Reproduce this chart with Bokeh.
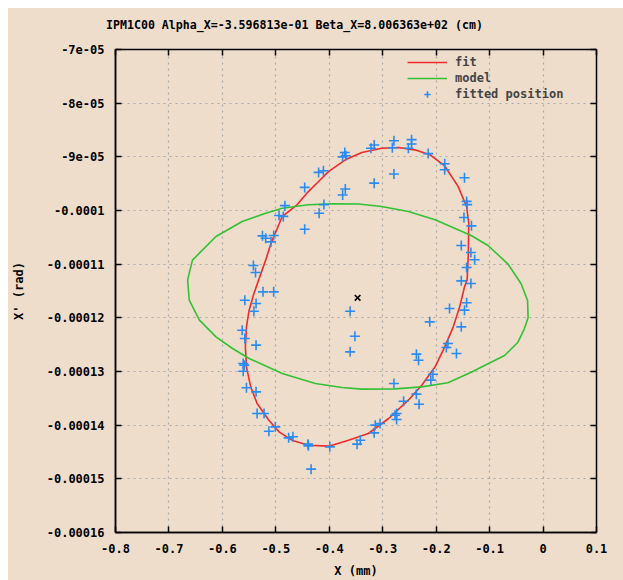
from bokeh.plotting import figure
from bokeh.models import (Range1d, FixedTicker, CustomJSTickFormatter, LinearAxis,
                          Legend, LegendItem, Spacer, Div)
from bokeh.layouts import column, row
from bokeh.embed import file_html
from bokeh.resources import INLINE

title_text = "IPM1C00 Alpha_X=-3.596813e-01 Beta_X=8.006363e+02 (cm)"
x_label = "X (mm)"
y_label = "X' (rad)"

x_ticks = [-0.8, -0.7, -0.6, -0.5, -0.4, -0.3, -0.2, -0.1, 0.0, 0.1]
x_tick_labels = ["-0.8", "-0.7", "-0.6", "-0.5", "-0.4", "-0.3", "-0.2", "-0.1", "0", "0.1"]
y_ticks = [-7e-05, -8e-05, -9e-05, -0.0001, -0.00011, -0.00012, -0.00013, -0.00014, -0.00015, -0.00016]
y_tick_labels = ["-7e-05", "-8e-05", "-9e-05", "-0.0001", "-0.00011", "-0.00012",
                 "-0.00013", "-0.00014", "-0.00015", "-0.00016"]

# fitted positions
pos_x = [-0.246, -0.246, -0.279, -0.316, -0.322, -0.282, -0.252, -0.215, -0.184, -0.184,
         -0.147, -0.371, -0.375, -0.369, -0.420, -0.411, -0.279, -0.316, -0.446, -0.370,
         -0.375, -0.483, -0.410, -0.494, -0.486, -0.419, -0.446, -0.143, -0.142, -0.148,
         -0.134, -0.525, -0.519, -0.504, -0.509, -0.153, -0.135, -0.128, -0.143, -0.542,
         -0.538, -0.524, -0.504, -0.558, -0.537, -0.541, -0.153, -0.135, -0.143, -0.147,
         -0.175, -0.153, -0.212, -0.361, -0.352, -0.361, -0.563, -0.558, -0.537, -0.178,
         -0.181, -0.162, -0.237, -0.233, -0.561, -0.559, -0.561, -0.206, -0.210, -0.279,
         -0.555, -0.537, -0.237, -0.232, -0.261, -0.535, -0.522, -0.277, -0.274, -0.274,
         -0.501, -0.513, -0.314, -0.305, -0.316, -0.476, -0.468, -0.440, -0.439, -0.399,
         -0.348, -0.342, -0.434]
pos_y = [-8.68e-05, -8.76e-05, -8.70e-05, -8.78e-05, -8.84e-05, -8.83e-05, -8.84e-05, -8.94e-05, -9.13e-05, -9.24e-05,
         -9.39e-05, -8.92e-05, -9.00e-05, -8.98e-05, -9.29e-05, -9.26e-05, -9.32e-05, -9.49e-05, -9.57e-05, -9.60e-05,
         -9.71e-05, -9.91e-05, -9.89e-05, -1.0093e-04, -1.011e-04, -1.005e-04, -1.0348e-04, -9.83e-05, -9.89e-05, -1.013e-04,
         -1.0286e-04, -1.0472e-04, -1.0516e-04, -1.0466e-04, -1.0584e-04, -1.0652e-04, -1.0783e-04, -1.0919e-04, -1.1062e-04, -1.1025e-04,
         -1.1155e-04, -1.1516e-04, -1.1516e-04, -1.1671e-04, -1.1733e-04, -1.1876e-04, -1.1311e-04, -1.136e-04, -1.172e-04, -1.1857e-04,
         -1.1826e-04, -1.2168e-04, -1.2075e-04, -1.1876e-04, -1.2342e-04, -1.2634e-04, -1.223e-04, -1.2385e-04, -1.2509e-04, -1.2478e-04,
         -1.2553e-04, -1.2665e-04, -1.2677e-04, -1.2789e-04, -1.2851e-04, -1.2882e-04, -1.2994e-04, -1.305e-04, -1.3161e-04, -1.3224e-04,
         -1.3304e-04, -1.3379e-04, -1.3422e-04, -1.3609e-04, -1.3553e-04, -1.3783e-04, -1.3783e-04, -1.3814e-04, -1.3783e-04, -1.3894e-04,
         -1.4031e-04, -1.4112e-04, -1.4e-04, -1.3969e-04, -1.4143e-04, -1.4236e-04, -1.4217e-04, -1.4354e-04, -1.4385e-04, -1.4404e-04,
         -1.4354e-04, -1.428e-04, -1.482e-04]

# fitted ellipse
fit_x = [-0.557, -0.555, -0.550, -0.541, -0.532, -0.519, -0.509, -0.488, -0.460, -0.442,
         -0.420, -0.401, -0.370, -0.339, -0.302, -0.271, -0.240, -0.212, -0.184, -0.159,
         -0.143, -0.139, -0.140, -0.142, -0.147, -0.156, -0.168, -0.184, -0.202, -0.227,
         -0.252, -0.289, -0.327, -0.364, -0.401, -0.439, -0.470, -0.494, -0.513, -0.535,
         -0.547, -0.555, -0.557]
fit_y = [-1.254e-04, -1.2168e-04, -1.1857e-04, -1.1547e-04, -1.129e-04, -1.0925e-04, -1.0609e-04, -1.0112e-04, -9.89e-05, -9.677e-05,
         -9.46e-05, -9.27e-05, -9.056e-05, -8.92e-05, -8.84e-05, -8.826e-05, -8.87e-05, -8.96e-05, -9.17e-05, -9.55e-05,
         -9.93e-05, -1.0242e-04, -1.0857e-04, -1.1292e-04, -1.1422e-04, -1.1795e-04, -1.2168e-04, -1.254e-04, -1.2913e-04, -1.3255e-04,
         -1.3534e-04, -1.3876e-04, -1.4155e-04, -1.428e-04, -1.4391e-04, -1.4373e-04, -1.428e-04, -1.4124e-04, -1.3907e-04, -1.3596e-04,
         -1.3286e-04, -1.2913e-04, -1.254e-04]

# model ellipse
model_x = [-0.665, -0.662, -0.643, -0.612, -0.581, -0.550, -0.488, -0.426, -0.376, -0.339,
           -0.277, -0.227, -0.178, -0.1345, -0.103, -0.072, -0.047, -0.035, -0.028, -0.029,
           -0.041, -0.066, -0.103, -0.1345, -0.202, -0.252, -0.302, -0.345, -0.395, -0.439,
           -0.488, -0.519, -0.563, -0.612, -0.643, -0.656, -0.662, -0.665]
model_y = [-1.13e-04, -1.1671e-04, -1.2043e-04, -1.2354e-04, -1.2571e-04, -1.2758e-04, -1.3037e-04, -1.3224e-04, -1.3298e-04, -1.3329e-04,
           -1.3323e-04, -1.3286e-04, -1.3211e-04, -1.3013e-04, -1.2856e-04, -1.2702e-04, -1.2454e-04, -1.2204e-04, -1.1999e-04, -1.1677e-04,
           -1.1366e-04, -1.0993e-04, -1.0652e-04, -1.0466e-04, -1.0174e-04, -1.0019e-04, -9.925e-05, -9.88e-05, -9.876e-05, -9.894e-05,
           -9.957e-05, -1.005e-04, -1.0205e-04, -1.0484e-04, -1.0795e-04, -1.0925e-04, -1.1168e-04, -1.13e-04]

center_x = [-0.347]
center_y = [-1.1627e-04]

BG = "#efddcc"
FONT = "DejaVu Sans Mono"
FS = "12px"
TITLE_H = 30

title_div = Div(text=title_text, width=615, height=TITLE_H,
                styles={"background-color": BG, "font-family": FONT, "font-weight": "bold",
                        "font-size": "11.6px", "line-height": "34px", "text-indent": "98px",
                        "white-space": "nowrap", "color": "black", "margin": "0"})

p = figure(width=615, height=572 - TITLE_H, output_backend="svg", toolbar_location=None,
           x_range=Range1d(-0.8, 0.1), y_range=Range1d(-0.00016, -7e-05),
           min_border_left=105, min_border_right=27, min_border_top=41 - TITLE_H,
           min_border_bottom=48,
           background_fill_color=BG, border_fill_color=BG,
           outline_line_color="black", outline_line_width=1.5)

fmt_code = """
let best = 0; let d = Infinity;
for (let i = 0; i < tv.length; i++) {
  const e = Math.abs(tv[i] - tick);
  if (e < d) { d = e; best = i; }
}
return tl[best];
"""
p.xaxis.ticker = FixedTicker(ticks=x_ticks)
p.yaxis.ticker = FixedTicker(ticks=y_ticks)
p.xaxis.formatter = CustomJSTickFormatter(args=dict(tv=x_ticks, tl=x_tick_labels), code=fmt_code)
p.yaxis.formatter = CustomJSTickFormatter(args=dict(tv=y_ticks, tl=y_tick_labels), code=fmt_code)

for ax in (p.xaxis[0], p.yaxis[0]):
    ax.major_tick_in = 6
    ax.major_tick_out = 0
    ax.minor_tick_line_color = None
    ax.axis_line_color = "black"
    ax.axis_line_width = 1.5
    ax.major_tick_line_color = "black"
    ax.major_tick_line_width = 1.5
    ax.major_label_text_font = FONT
    ax.major_label_text_font_style = "bold"
    ax.major_label_text_font_size = FS
    ax.major_label_text_color = "black"
    ax.axis_label_text_font = FONT
    ax.axis_label_text_font_style = "bold"
    ax.axis_label_text_font_size = FS
    ax.axis_label_text_color = "black"

p.xaxis.axis_label = x_label
p.yaxis.axis_label = y_label
p.xaxis.major_label_standoff = 11
p.yaxis.major_label_standoff = 11
p.xaxis.axis_label_standoff = 8
p.yaxis.axis_label_standoff = 18

empty = CustomJSTickFormatter(code="return '';")
top_ax = LinearAxis(ticker=FixedTicker(ticks=x_ticks), formatter=empty,
                    major_tick_in=6, major_tick_out=0, minor_tick_line_color=None,
                    axis_line_color="black", major_tick_line_width=1.5, major_label_standoff=0)
right_ax = LinearAxis(ticker=FixedTicker(ticks=y_ticks), formatter=empty,
                      major_tick_in=6, major_tick_out=0, minor_tick_line_color=None,
                      axis_line_color="black", major_tick_line_width=1.5, major_label_standoff=0)
p.add_layout(top_ax, "above")
p.add_layout(right_ax, "right")

p.xgrid.ticker = FixedTicker(ticks=x_ticks)
p.ygrid.ticker = FixedTicker(ticks=y_ticks)
for g in (p.xgrid[0], p.ygrid[0]):
    g.grid_line_color = "#a8a8a8"
    g.grid_line_dash = "2 4"
    g.grid_line_width = 1.2

r_fit = p.line(fit_x, fit_y, line_color="#f02a2a", line_width=1.6)
r_model = p.line(model_x, model_y, line_color="#33c133", line_width=1.6)
r_pos = p.scatter(pos_x, pos_y, marker="cross", size=10, line_color="#2a8cf0", line_width=1.6)
p.scatter(center_x, center_y, marker="x", size=8, line_color="black", line_width=1.6)

legend = Legend(items=[LegendItem(label="fit", renderers=[r_fit]),
                       LegendItem(label="model", renderers=[r_model]),
                       LegendItem(label="fitted position", renderers=[r_pos])],
                location=(292, 430), background_fill_alpha=0, border_line_color=None,
                margin=0, padding=4, spacing=0, label_height=16, glyph_height=16,
                glyph_width=40, label_standoff=8,
                label_text_font=FONT, label_text_font_style="bold", label_text_font_size=FS)
p.add_layout(legend)

inner = column(title_div, p, spacing=0, styles={"background-color": BG})
layout = column(Spacer(height=8, width=623),
                row(Spacer(width=8, height=572), inner))

open("out.html", "w").write(file_html(layout, INLINE))
